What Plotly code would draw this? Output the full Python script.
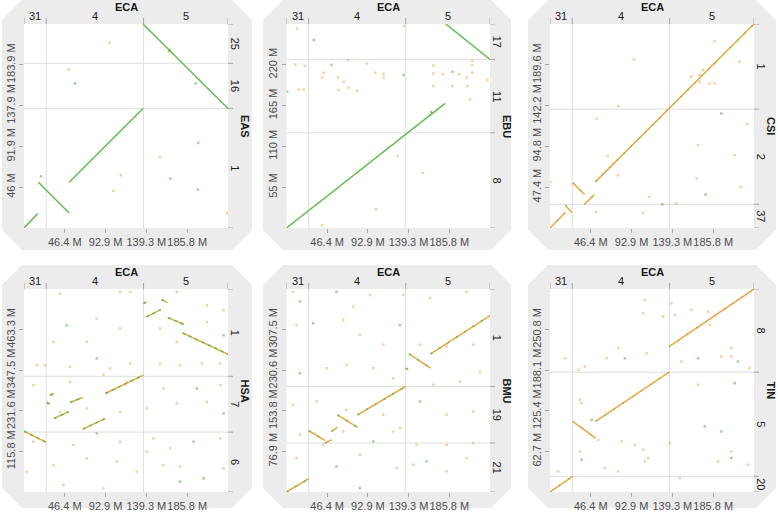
import plotly.graph_objects as go

# ---------------- data ----------------
ECA_CHROMS = ["31", "4", "5"]
ECA_SIZES = [25.3, 110.8, 96.15]
X_TICKS = [46.4, 92.9, 139.3, 185.8]
X_TICK_TEXT = ["46.4 M", "92.9 M", "139.3 M", "185.8 M"]

SPECIES = ["EAS", "EBU", "CSI", "HSA", "BMU", "TIN"]

# --- EAS ---
EAS_CHROMS = ["1", "16", "25"]
EAS_SIZES = [134.8, 50.8, 44.3]
EAS_TICKS = [46.0, 91.9, 137.9, 183.9]
EAS_TICK_TEXT = ["46 M", "91.9 M", "137.9 M", "183.9 M"]
EAS_X0 = [0.0, 16.4, 51.4, 135.5, 164.3]
EAS_X1 = [15.6, 51.4, 135.5, 232.2, 166.8]
EAS_Y0 = [0.0, 51.5, 51.5, 229.9, 198.3]
EAS_Y1 = [16.2, 16.9, 134.7, 134.7, 201.8]
EAS_NX = [97.5, 50.6, 57.9, 110.4, 102.0, 154.6, 166.7, 198.3, 198.0, 195.3, 231.5, 19.4]
EAS_NY = [208.8, 178.7, 162.9, 59.4, 41.8, 80.1, 55.7, 95.9, 43.3, 162.9, 17.3, 58.3]
EAS_NK = ["o", "o", "g", "o", "o", "o", "g", "g", "g", "g", "o", "g"]

# --- EBU ---
EBU_CHROMS = ["8", "11", "17"]
EBU_SIZES = [128.3, 99.0, 47.7]
EBU_TICKS = [55, 110, 165, 220]
EBU_TICK_TEXT = ["55 M", "110 M", "165 M", "220 M"]
EBU_X0 = [0.0, 181.8, 164.5]
EBU_X1 = [181.0, 232.25, 167.0]
EBU_Y0 = [0.0, 275.0, 157.5]
EBU_Y1 = [167.9, 227.3, 154.0]
EBU_NX = [42.5, 40.6, 51.2, 58.8, 65.3, 59.6, 71.0, 80.5, 91.8, 101.3, 110.8, 110.8, 14.0, 19.7,
          0.8, 10.2, 20.9, 167.7, 167.7, 167.7, 178.4, 189.4, 197.0, 205.7, 212.1, 212.1, 212.1,
          206.4, 209.5, 229.2, 31.1, 134.3, 126.8, 155.2, 102.1, 40.6, 12.1, 133.6, 189.4, 70.2]
EBU_NY = [209.3, 203.0, 219.6, 203.0, 197.1, 185.9, 189.5, 185.0, 221.9, 209.3, 207.5, 203.0,
          186.8, 186.8, 183.6, 220.5, 218.7, 219.2, 208.4, 191.3, 207.5, 210.6, 207.5, 203.0,
          225.5, 219.6, 209.3, 191.3, 173.3, 199.4, 253.4, 272.3, 96.8, 74.3, 25.2, 3.6, 269.1,
          206.1, 191.3, 226.4]
EBU_NK = ["o", "o", "g", "o", "o", "o", "o", "o", "o", "o", "o", "o", "o", "o",
          "g", "o", "o", "o", "o", "o", "o", "g", "o", "o", "o", "o", "o",
          "o", "o", "o", "g", "o", "o", "o", "o", "o", "o", "g", "o", "o"]

# --- CSI ---
CSI_CHROMS = ["37", "2", "1"]
CSI_SIZES = [27.5, 110.6, 98.9]
CSI_TICKS = [47.4, 94.8, 142.2, 189.6]
CSI_TICK_TEXT = ["47.4 M", "94.8 M", "142.2 M", "189.6 M"]
CSI_X0 = [0.0, 17.5, 26.0, 39.3, 51.9]
CSI_X1 = [17.5, 25.0, 39.3, 50.7, 232.25]
CSI_Y0 = [0.0, 26.3, 52.4, 27.6, 53.9]
CSI_Y1 = [18.0, 17.8, 38.9, 38.9, 237.0]
CSI_NX = [95.4, 53.2, 65.8, 77.2, 77.9, 113.3, 105.7, 143.7, 127.7, 168.4, 167.2, 177.1, 187.4,
          187.4, 170.3, 181.7, 187.4, 195.0, 210.2, 216.9, 224.6, 215.9, 170.3, 160.8, 52.5, 0.4, 174.1]
CSI_NY = [195.9, 127.2, 83.8, 61.3, 141.6, 36.1, 17.8, 28.3, 27.5, 96.2, 57.4, 38.8, 217.2,
          191.2, 169.9, 168.0, 168.0, 133.0, 84.6, 47.7, 120.6, 193.2, 177.7, 175.7, 18.6, 53.5, 183.5]
CSI_NK = ["o", "o", "o", "o", "o", "o", "o", "o", "g", "o", "o", "g", "o",
          "o", "o", "o", "o", "g", "o", "o", "o", "o", "o", "o", "o", "o", "o"]

# --- HSA ---
HSA_CHROMS = ["6", "7", "1"]
HSA_SIZES = [170.8, 159.3, 248.9]
HSA_TICKS = [115.8, 231.6, 347.5, 463.3]
HSA_TICK_TEXT = ["115.8 M", "231.6 M", "347.5 M", "463.3 M"]
HSA_X0 = [0.0, 29.6, 25.9, 34.2, 52.4, 66.9, 92.7, 136.0, 139.1, 156.5, 163.8, 180.5]
HSA_X1 = [25.5, 34.2, 29.6, 50.9, 66.9, 92.7, 136.0, 139.0, 155.8, 163.4, 181.6, 232.25]
HSA_Y0 = [173.7, 276.0, 255.4, 209.8, 255.4, 179.4, 281.1, 537.4, 499.3, 548.8, 497.5, 453.7]
HSA_Y1 = [141.5, 281.0, 250.6, 228.8, 269.7, 209.8, 333.2, 542.0, 520.3, 540.3, 478.5, 393.0]
HSA_NX = [41.0, 109.4, 174.0, 208.2, 227.2, 48.6, 82.8, 109.4, 155.0, 174.0, 208.2, 227.2, 14.4,
          23.9, 52.4, 82.8, 98.0, 120.8, 155.0, 177.8, 202.5, 223.4, 10.6, 52.4, 117.0, 158.8,
          196.8, 223.4, 41.0, 71.4, 109.4, 139.8, 174.0, 208.2, 227.2, 10.6, 56.2, 82.8, 109.4,
          147.4, 166.4, 193.0, 223.4, 3.0, 33.4, 71.4, 105.6, 128.4, 158.8, 177.8, 204.4, 227.2,
          44.8, 90.4, 177.8, 139.8, 90.4, 120.8, 71.4, 33.4]
HSA_NY = [565.8, 570.5, 570.5, 532.6, 518.3, 475.6, 494.6, 466.1, 466.1, 428.1, 485.1, 447.1, 361.7,
          361.7, 356.9, 380.7, 352.2, 366.4, 366.4, 361.7, 366.4, 366.4, 304.7, 314.2, 314.2, 295.2,
          295.2, 304.7, 228.8, 238.3, 228.8, 238.3, 252.5, 257.3, 224.0, 143.3, 133.9, 167.1, 143.3,
          152.8, 124.4, 143.3, 152.8, 57.9, 76.9, 95.9, 86.4, 57.9, 76.9, 72.1, 38.9, 67.4,
          19.9, 10.4, 29.4, 114.9, 335.0, 570.5, 428.1, 428.1]
HSA_NK = ["o", "o", "o", "o", "o", "g", "o", "o", "o", "o", "o", "g", "o",
          "o", "o", "g", "o", "o", "o", "o", "o", "o", "o", "o", "o", "o",
          "g", "o", "o", "o", "o", "o", "o", "o", "g", "o", "o", "g", "o",
          "o", "o", "g", "o", "o", "o", "o", "o", "o", "o", "o", "g", "o",
          "o", "o", "g", "o", "o", "o", "o", "o"]

# --- BMU ---
BMU_CHROMS = ["21", "19", "1"]
BMU_SIZES = [92.7, 107.2, 184.5]
BMU_TICKS = [76.9, 153.8, 230.6, 307.5]
BMU_TICK_TEXT = ["76.9 M", "153.8 M", "230.6 M", "307.5 M"]
BMU_X0 = [0.0, 25.5, 43.8, 51.4, 58.3, 81.1, 135.9, 139.8, 164.5]
BMU_X1 = [25.5, 43.8, 51.4, 58.3, 81.1, 135.9, 139.0, 164.5, 232.25]
BMU_Y0 = [0.0, 116.0, 92.7, 114.7, 146.2, 146.2, 234.5, 261.6, 261.6]
BMU_Y1 = [25.2, 97.7, 99.0, 122.9, 122.3, 199.8, 231.3, 234.5, 334.1]
BMU_NX = [7.6, 15.2, 57.1, 76.2, 95.2, 133.3, 163.7, 205.6, 11.4, 30.5, 64.7, 83.8, 110.4, 129.5,
          152.3, 182.8, 213.2, 15.2, 45.7, 68.5, 99.0, 121.9, 167.6, 198.0, 220.9, 7.6, 34.3, 68.5,
          110.4, 129.5, 152.3, 182.8, 213.2, 15.2, 64.7, 99.0, 121.9, 148.5, 182.8, 213.2, 11.4,
          57.1, 83.8, 125.7, 159.9, 182.8, 205.6, 83.8, 144.7, 41.9]
BMU_NY = [379.4, 360.5, 379.4, 351.1, 373.1, 373.1, 366.8, 379.4, 316.4, 319.6, 325.9, 297.5, 278.6,
          316.4, 278.6, 275.4, 278.6, 225.0, 234.5, 240.8, 234.5, 215.6, 203.0, 209.3, 228.2, 165.1,
          171.4, 155.7, 146.2, 121.0, 171.4, 146.2, 152.5, 108.4, 114.7, 95.8, 114.7, 89.5, 89.5,
          92.7, 64.3, 48.5, 70.6, 45.4, 58.0, 39.1, 64.3, 7.6, 51.7, 89.5]
BMU_NK = ["o", "g", "g", "o", "o", "o", "o", "o", "o", "g", "o", "o", "o", "g",
          "o", "o", "o", "g", "o", "o", "o", "o", "o", "o", "o", "o", "o", "o",
          "o", "o", "g", "o", "o", "o", "o", "g", "o", "o", "o", "o", "o",
          "g", "o", "o", "g", "o", "o", "g", "o", "o"]

# --- TIN ---
TIN_CHROMS = ["20", "5", "8"]
TIN_SIZES = [24.2, 160.8, 128.5]
TIN_TICKS = [62.7, 125.4, 188.1, 250.8]
TIN_TICK_TEXT = ["62.7 M", "125.4 M", "188.1 M", "250.8 M"]
TIN_X0 = [0.0, 25.8, 51.9, 135.6]
TIN_X1 = [25.8, 51.9, 135.6, 232.25]
TIN_Y0 = [0.0, 109.0, 109.0, 224.6]
TIN_Y1 = [24.2, 83.3, 185.0, 313.5]
TIN_NX = [32.2, 39.8, 34.1, 36.0, 47.4, 34.1, 36.0, 64.4, 77.7, 85.3, 109.9, 128.8, 108.0, 106.1,
          138.3, 142.1, 161.0, 180.0, 195.1, 206.5, 214.1, 227.3, 168.6, 149.7, 136.4, 147.8, 176.2,
          195.1, 206.5, 206.5, 191.3, 225.4, 62.5, 81.5, 96.6, 106.1, 111.8, 108.0, 77.7, 54.9,
          210.3, 206.5, 168.6, 181.9, 9.5, 17.1]
TIN_NY = [188.6, 193.8, 142.4, 137.2, 111.5, 62.7, 49.9, 206.6, 222.0, 206.6, 214.3, 270.9, 296.6,
          276.0, 291.4, 273.4, 281.2, 278.6, 209.2, 209.2, 201.5, 191.2, 206.6, 201.5, 75.6, 21.6,
          101.3, 93.5, 62.7, 52.4, 47.3, 42.1, 37.0, 78.1, 73.0, 65.3, 52.4, 47.3, 31.9, 80.7,
          168.1, 222.0, 165.5, 258.0, 31.9, 206.6]
TIN_NK = ["o", "o", "o", "o", "g", "o", "g", "o", "o", "g", "o", "o", "o", "o",
          "o", "o", "o", "o", "o", "o", "g", "o", "g", "o", "o", "o", "g",
          "g", "o", "g", "o", "o", "o", "o", "o", "o", "o", "o", "o", "o",
          "g", "o", "o", "o", "o", "o"]

PANELS = [
    ("EAS", EAS_CHROMS, EAS_SIZES, EAS_TICKS, EAS_TICK_TEXT, EAS_X0, EAS_X1, EAS_Y0, EAS_Y1, EAS_NX, EAS_NY, EAS_NK),
    ("EBU", EBU_CHROMS, EBU_SIZES, EBU_TICKS, EBU_TICK_TEXT, EBU_X0, EBU_X1, EBU_Y0, EBU_Y1, EBU_NX, EBU_NY, EBU_NK),
    ("CSI", CSI_CHROMS, CSI_SIZES, CSI_TICKS, CSI_TICK_TEXT, CSI_X0, CSI_X1, CSI_Y0, CSI_Y1, CSI_NX, CSI_NY, CSI_NK),
    ("HSA", HSA_CHROMS, HSA_SIZES, HSA_TICKS, HSA_TICK_TEXT, HSA_X0, HSA_X1, HSA_Y0, HSA_Y1, HSA_NX, HSA_NY, HSA_NK),
    ("BMU", BMU_CHROMS, BMU_SIZES, BMU_TICKS, BMU_TICK_TEXT, BMU_X0, BMU_X1, BMU_Y0, BMU_Y1, BMU_NX, BMU_NY, BMU_NK),
    ("TIN", TIN_CHROMS, TIN_SIZES, TIN_TICKS, TIN_TICK_TEXT, TIN_X0, TIN_X1, TIN_Y0, TIN_Y1, TIN_NX, TIN_NY, TIN_NK),
]

# ---------------- styling / layout geometry (pixels) ----------------
W, H = 778, 516
COL_PLOT = [(24, 228), (286.5, 490), (550, 754)]
ROW_PLOT = [(24, 228), (289, 492)]
COL_BG = [(2, 252), (263, 511), (528, 776)]
ROW_BG = [(0, 250), (265, 508)]
CUT = 20

BG_GRAY = "#ececec"
BOUND_COLOR = "#dedede"
TICK_COLOR = "#a6a6a6"
TICK_FONT = dict(family="Liberation Sans, Arial, sans-serif", size=11, color="#4d4d4d")
STRIP_FONT = dict(family="Liberation Sans, Arial, sans-serif", size=11, color="#1a1a1a")
STRIP_BOLD = dict(family="Liberation Sans, Arial, sans-serif", size=11, color="#1a1a1a")

GREEN = "#5cbd55"
ORANGE = "#f0a63c"
LINE_STYLE = {
    "EAS": (GREEN, ORANGE, "1px,14px"),
    "EBU": (GREEN, ORANGE, "1px,16px"),
    "CSI": (ORANGE, GREEN, "1px,9px"),
    "HSA": (ORANGE, GREEN, "3px,4px"),
    "BMU": (ORANGE, GREEN, "2px,8px"),
    "TIN": (ORANGE, GREEN, "1px,10px"),
}
NOISE_COLORS = {"o": "rgba(242,170,80,0.55)", "g": "rgba(100,180,100,0.6)"}


def fx(px):
    return px / W


def fy(py):
    return 1 - py / H


eca_total = sum(ECA_SIZES)
eca_bounds = [0.0]
for s in ECA_SIZES:
    eca_bounds.append(eca_bounds[-1] + s)

fig = go.Figure()
shapes = []
annotations = []
layout_axes = {}

for i, (name, chroms, sizes, ticks, ticktext, x0s, x1s, y0s, y1s, nx, ny, nk) in enumerate(PANELS):
    r, c = divmod(i, 3)
    k = "" if i == 0 else str(i + 1)
    xa, ya = "x" + k, "y" + k
    px0, px1 = COL_PLOT[c]
    py0, py1 = ROW_PLOT[r]
    bx0, bx1 = COL_BG[c]
    by0, by1 = ROW_BG[r]

    total = sum(sizes)
    bounds = [0.0]
    for s in sizes:
        bounds.append(bounds[-1] + s)

    # gray octagon background
    pts = [(bx0 + CUT, by0), (bx1 - CUT, by0), (bx1, by0 + CUT), (bx1, by1 - CUT),
           (bx1 - CUT, by1), (bx0 + CUT, by1), (bx0, by1 - CUT), (bx0, by0 + CUT)]
    path = "M " + " L ".join(f"{fx(a):.5f},{fy(b):.5f}" for a, b in pts) + " Z"
    shapes.append(dict(type="path", path=path, xref="paper", yref="paper",
                       fillcolor=BG_GRAY, line=dict(width=0), layer="below"))
    # white plot area
    shapes.append(dict(type="rect", xref="paper", yref="paper",
                       x0=fx(px0), x1=fx(px1), y0=fy(py1), y1=fy(py0),
                       fillcolor="white", line=dict(width=0), layer="below"))

    # chromosome boundaries inside plot
    for b in eca_bounds[1:-1]:
        shapes.append(dict(type="line", xref=xa, yref=ya + " domain", x0=b, x1=b, y0=0, y1=1,
                           line=dict(color=BOUND_COLOR, width=1), layer="below"))
    for b in bounds[1:-1]:
        shapes.append(dict(type="line", xref=xa + " domain", yref=ya, x0=0, x1=1, y0=b, y1=b,
                           line=dict(color=BOUND_COLOR, width=1), layer="below"))
    # top strip ticks at ECA boundaries
    for b in eca_bounds:
        shapes.append(dict(type="line", xref=xa, yref="paper", x0=b, x1=b,
                           y0=fy(py0), y1=fy(py0 - 6), line=dict(color=TICK_COLOR, width=1)))
    # right strip ticks at species boundaries
    for b in bounds:
        shapes.append(dict(type="line", xref="paper", yref=ya, x0=fx(px1), x1=fx(px1 + 5),
                           y0=b, y1=b, line=dict(color=TICK_COLOR, width=1)))

    # strip labels
    annotations.append(dict(text="<b>ECA</b>", xref=xa + " domain", yref="paper", x=0.5, y=fy(py0 - 17),
                            showarrow=False, font=STRIP_BOLD, xanchor="center", yanchor="middle"))
    for j, ch in enumerate(ECA_CHROMS):
        mid = (eca_bounds[j] + eca_bounds[j + 1]) / 2
        annotations.append(dict(text=ch, xref=xa, yref="paper", x=mid, y=fy(py0 - 8),
                                showarrow=False, font=STRIP_FONT, xanchor="center", yanchor="middle"))
    annotations.append(dict(text=f"<b>{name}</b>", xref="paper", yref=ya + " domain", x=fx(px1 + 17), y=0.5,
                            showarrow=False, font=STRIP_BOLD, textangle=90,
                            xanchor="center", yanchor="middle"))
    for j, ch in enumerate(chroms):
        mid = (bounds[j] + bounds[j + 1]) / 2
        annotations.append(dict(text=ch, xref="paper", yref=ya, x=fx(px1 + 7), y=mid,
                                showarrow=False, font=STRIP_FONT, textangle=90,
                                xanchor="center", yanchor="middle"))

    # synteny segments
    base, over, dash = LINE_STYLE[name]
    sx, sy = [], []
    for a0, a1, b0, b1 in zip(x0s, x1s, y0s, y1s):
        sx += [a0, a1, None]
        sy += [b0, b1, None]
    fig.add_trace(go.Scatter(x=sx, y=sy, mode="lines", xaxis=xa, yaxis=ya,
                             line=dict(color=base, width=1.5), hoverinfo="skip"))
    fig.add_trace(go.Scatter(x=sx, y=sy, mode="lines", xaxis=xa, yaxis=ya,
                             line=dict(color=over, width=1.5, dash=dash), hoverinfo="skip"))
    # scattered hits
    fig.add_trace(go.Scatter(x=nx, y=ny, mode="markers", xaxis=xa, yaxis=ya,
                             marker=dict(size=2.5, symbol="square",
                                         color=[NOISE_COLORS[t] for t in nk], line=dict(width=0)),
                             hoverinfo="skip"))

    common = dict(ticks="outside", ticklen=4, tickwidth=1, tickcolor=TICK_COLOR,
                  showgrid=False, zeroline=False, showline=False, tickfont=TICK_FONT,
                  fixedrange=True)
    layout_axes["xaxis" + k] = dict(domain=[fx(px0), fx(px1)], range=[0, eca_total],
                                    tickvals=X_TICKS, ticktext=X_TICK_TEXT, tickangle=0,
                                    anchor=ya, **common)
    layout_axes["yaxis" + k] = dict(domain=[fy(py1), fy(py0)], range=[0, total],
                                    tickvals=ticks, ticktext=ticktext, tickangle=-90,
                                    anchor=xa, **common)

fig.update_layout(
    width=W, height=H, margin=dict(l=0, r=0, t=0, b=0),
    paper_bgcolor="white", plot_bgcolor="rgba(0,0,0,0)",
    showlegend=False, shapes=shapes, annotations=annotations,
    **layout_axes,
)

fig.write_html("out.html", config={"displayModeBar": False},
               post_script="document.body.style.margin='0px';document.body.style.overflow='hidden';")
